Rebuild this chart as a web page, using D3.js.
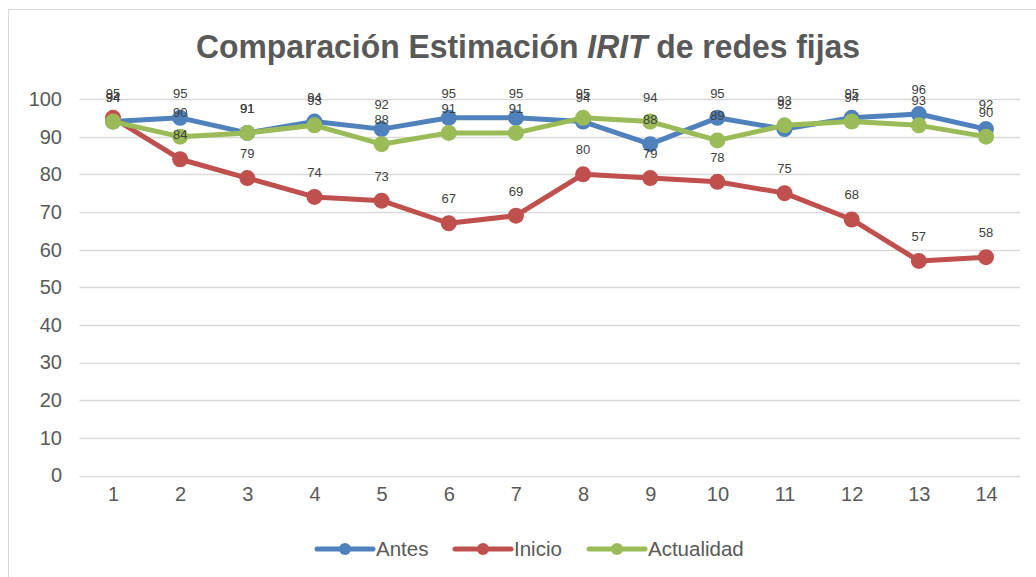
<!DOCTYPE html>
<html><head><meta charset="utf-8">
<script src="https://cdn.jsdelivr.net/npm/d3@7"></script>
<style>body{margin:0;background:#fff;}svg{display:block;font-family:"Liberation Sans",Arial,sans-serif;}</style>
</head><body>
<svg id="c" width="1036" height="577"></svg>
<script>
const categories = ["1","2","3","4","5","6","7","8","9","10","11","12","13","14"];
const antes = [94,95,91,94,92,95,95,94,88,95,92,95,96,92];
const inicio = [95,84,79,74,73,67,69,80,79,78,75,68,57,58];
const actualidad = [94,90,91,93,88,91,91,95,94,89,93,94,93,90];
const yTicks = [0,10,20,30,40,50,60,70,80,90,100];
const seriesNames = ["Antes","Inicio","Actualidad"];
const colors = ["#4F81BD","#C0504D","#9BBB59"];
const title = "Comparación Estimación ";
const titleItalic = "IRIT";
const titleEnd = " de redes fijas";

const series = [antes, inicio, actualidad];
const svg = d3.select("#c");
svg.append("rect").attr("x",8.5).attr("y",9.5).attr("width",1040).attr("height",580)
  .attr("fill","#fff").attr("stroke","#d9d9d9").attr("stroke-width",1);

const x = d3.scalePoint().domain(categories).range([113,986]);
const y = d3.scaleLinear().domain([0,100]).range([475.5,99]);

// title
const t = svg.append("text").attr("x",196).attr("y",58)
  .attr("textLength",664).attr("lengthAdjust","spacingAndGlyphs")
  .attr("font-weight","bold").attr("font-size",34).attr("fill","#595959");
t.append("tspan").text(title);
t.append("tspan").attr("font-style","italic").text(titleItalic);
t.append("tspan").text(titleEnd);

// grid
svg.append("g").selectAll("line").data(yTicks).join("line")
  .attr("x1",79.5).attr("x2",1020).attr("y1",d=>Math.round(y(d))+0.5).attr("y2",d=>Math.round(y(d))+0.5)
  .attr("stroke","#d9d9d9").attr("stroke-width",1.5);

// y axis labels
const yAxis = svg.append("g").attr("transform","translate(62,0)")
  .call(d3.axisLeft(y).tickValues(yTicks).tickSize(0).tickPadding(0));
yAxis.select(".domain").remove();
yAxis.selectAll("text").attr("font-size",20).attr("fill","#595959").attr("font-family","'Liberation Sans',Arial,sans-serif");

// x axis labels
const xAxis = svg.append("g").attr("transform","translate(0,487)")
  .call(d3.axisBottom(x).tickSize(0).tickPadding(0));
xAxis.select(".domain").remove();
xAxis.selectAll("text").attr("font-size",20).attr("fill","#595959").attr("font-family","'Liberation Sans',Arial,sans-serif");

const line = d3.line().x((d,i)=>x(categories[i])).y(d=>y(d));
series.forEach((s,k)=>{
  const g = svg.append("g");
  g.append("path").datum(s).attr("d",line).attr("fill","none").attr("stroke",colors[k])
    .attr("stroke-width",5).attr("stroke-linejoin","round").attr("stroke-linecap","round");
  g.selectAll("circle").data(s).join("circle").attr("cx",(d,i)=>x(categories[i])).attr("cy",d=>y(d))
    .attr("r",8).attr("fill",colors[k]);
});
series.forEach((s,k)=>{
  svg.append("g").selectAll("text").data(s).join("text")
    .attr("x",(d,i)=>x(categories[i])).attr("y",d=>y(d)-20)
    .attr("text-anchor","middle").attr("font-size",13).attr("fill","#404040").text(d=>d);
});

// legend
const legX = [317,455,589];
seriesNames.forEach((n,k)=>{
  const g = svg.append("g").attr("transform",`translate(${legX[k]},549)`);
  g.append("line").attr("x1",0).attr("x2",56).attr("stroke",colors[k]).attr("stroke-width",5).attr("stroke-linecap","round");
  g.append("circle").attr("cx",28).attr("r",6).attr("fill",colors[k]);
  g.append("text").attr("x",59).attr("y",7).attr("font-size",20.5).attr("fill","#595959").text(n);
});
</script>
</body></html>
